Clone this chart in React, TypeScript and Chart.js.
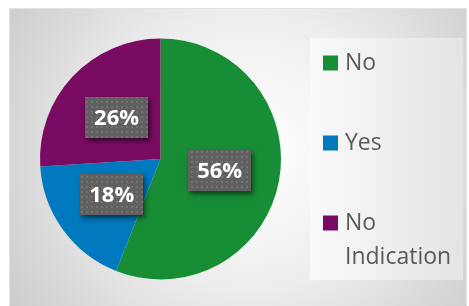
import React, { useEffect, useRef } from "react";
import { Chart, registerables } from "chart.js";

Chart.register(...registerables);

const categories = ["No", "Yes", "No Indication"];
const legendLines = [["No"], ["Yes"], ["No", "Indication"]];
const values = [56, 18, 26];
const colors = ["#178d36", "#0079be", "#790c62"];

const W = 469;
const H = 306;

const backgroundPlugin = {
  id: "bgFrame",
  beforeDraw(chart: any) {
    const ctx = chart.ctx;
    ctx.save();
    ctx.fillStyle = "#ffffff";
    ctx.fillRect(0, 0, W, H);
    const g = ctx.createRadialGradient(250, 150, 10, 250, 150, 300);
    g.addColorStop(0, "#ffffff");
    g.addColorStop(0.45, "#ededed");
    g.addColorStop(1, "#c9c9c9");
    ctx.fillStyle = g;
    ctx.fillRect(9, 8, 458, 300);
    ctx.strokeStyle = "#e2e2e2";
    ctx.lineWidth = 1;
    ctx.strokeRect(9.5, 8.5, 457, 300);
    const lg = ctx.createLinearGradient(310, 0, 463, 0);
    lg.addColorStop(0, "#fafafa");
    lg.addColorStop(1, "#e4e4e4");
    ctx.fillStyle = lg;
    ctx.fillRect(310, 38, 153, 242);
    ctx.restore();
  },
};

function makePattern(ctx: CanvasRenderingContext2D) {
  const c = document.createElement("canvas");
  c.width = 5;
  c.height = 5;
  const p = c.getContext("2d")!;
  p.fillStyle = "#606060";
  p.fillRect(0, 0, 5, 5);
  p.fillStyle = "#727272";
  p.fillRect(1, 1, 2, 2);
  return ctx.createPattern(c, "repeat");
}

const labelPlugin = {
  id: "boxLabels",
  afterDatasetsDraw(chart: any) {
    const ctx = chart.ctx;
    const meta = chart.getDatasetMeta(0);
    const data = chart.data.datasets[0].data as number[];
    const total = data.reduce((a, b) => a + b, 0);
    const pattern = makePattern(ctx);
    ctx.save();
    ctx.font = "bold 22px 'Open Sans'";
    meta.data.forEach((arc: any, i: number) => {
      const pos = arc.tooltipPosition(false);
      const text = Math.round((data[i] / total) * 100) + "%";
      const bw = 63;
      const bh = 41;
      const x = Math.round(pos.x - bw / 2);
      const y = Math.round(pos.y - bh / 2);
      ctx.save();
      ctx.shadowColor = "rgba(0,0,0,0.55)";
      ctx.shadowBlur = 5;
      ctx.shadowOffsetX = 2;
      ctx.shadowOffsetY = 3;
      ctx.fillStyle = "#606060";
      ctx.fillRect(x, y, bw, bh);
      ctx.restore();
      ctx.fillStyle = pattern || "#606060";
      ctx.fillRect(x, y, bw, bh);
      ctx.fillStyle = "#ffffff";
      ctx.textAlign = "center";
      ctx.textBaseline = "middle";
      ctx.fillText(text, pos.x, pos.y + 1);
    });
    ctx.restore();
  },
};

const legendPlugin = {
  id: "sideLegend",
  afterDraw(chart: any) {
    const ctx = chart.ctx;
    const ds = chart.data.datasets[0];
    ctx.save();
    ctx.font = "23px 'Open Sans'";
    ctx.textBaseline = "middle";
    ctx.textAlign = "left";
    (chart.data.labels as string[]).forEach((_: string, i: number) => {
      const cy = 63 + i * 80;
      ctx.fillStyle = ds.backgroundColor[i];
      ctx.fillRect(323, cy - 7.5, 15, 15);
      ctx.fillStyle = "#595959";
      legendLines[i].forEach((line, j) => {
        ctx.fillText(line, 345, cy + j * 34);
      });
    });
    ctx.restore();
  },
};

export default function App() {
  const ref = useRef<HTMLCanvasElement>(null);
  useEffect(() => {
    if (!ref.current) return;
    const chart = new Chart(ref.current, {
      type: "pie",
      data: {
        labels: categories,
        datasets: [
          {
            data: values,
            backgroundColor: colors,
            borderWidth: 0,
          },
        ],
      },
      options: {
        responsive: false,
        animation: false,
        layout: { padding: { left: 40, right: 188, top: 38.5, bottom: 26.5 } },
        plugins: {
          legend: { display: false },
          tooltip: { enabled: false },
        },
      },
      plugins: [backgroundPlugin, labelPlugin, legendPlugin],
    });
    return () => chart.destroy();
  }, []);
  return (
    <div style={{ position: "absolute", left: 0, top: 0, width: W, height: H }}>
      <canvas ref={ref} width={W} height={H} style={{ display: "block" }} />
    </div>
  );
}
